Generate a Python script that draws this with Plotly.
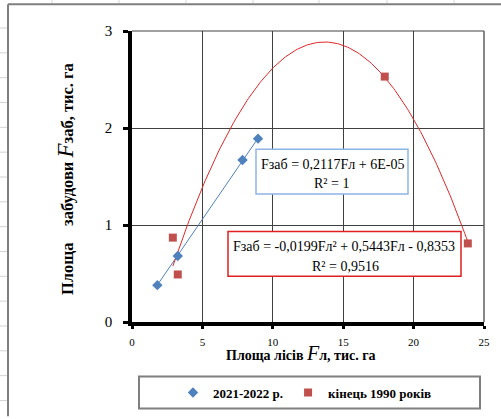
import numpy as np
import plotly.graph_objects as go

# ---- data ----
series_names = ["2021-2022 р.", "кінець 1990 років"]
x_2021 = [1.8, 3.25, 7.85, 8.95]
y_2021 = [0.38, 0.68, 1.67, 1.89]
x_1990 = [2.9, 3.25, 17.95, 23.85]
y_1990 = [0.87, 0.49, 2.53, 0.81]
lin_coef = [0.2117, 0.00006]            # Fзаб = 0,2117Fл + 6E-05
quad_coef = [-0.0199, 0.5443, -0.8353]  # Fзаб = -0,0199Fл² + 0,5443Fл - 0,8353
eq_lin = ["Fзаб = 0,2117Fл + 6E-05", "R² = 1"]
eq_quad = ["Fзаб = -0,0199Fл² + 0,5443Fл - 0,8353", "R² = 0,9516"]
x_ticks = [0, 5, 10, 15, 20, 25]
y_ticks = [0, 1, 2, 3]

W, H = 501, 419
L, R, T, B = 132, 17, 31, 95
PW, PH = W - L - R, H - T - B

def xp(px):
    return (px - L) / PW

def yp(py):
    return (H - B - py) / PH

SERIF = "Liberation Serif"
BLUE = "#4F81BD"
RED = "#C0504D"
REDLINE = "#E0282A"

fig = go.Figure()

# trend lines
xl = np.linspace(min(x_2021), max(x_2021), 50)
fig.add_trace(go.Scatter(x=xl, y=np.polyval(lin_coef, xl), mode="lines",
                         line=dict(color=BLUE, width=1), showlegend=False, hoverinfo="skip"))
xq = np.linspace(min(x_1990), max(x_1990), 200)
fig.add_trace(go.Scatter(x=xq, y=np.polyval(quad_coef, xq), mode="lines",
                         line=dict(color=REDLINE, width=1), showlegend=False, hoverinfo="skip"))

# markers
fig.add_trace(go.Scatter(x=x_2021, y=y_2021, mode="markers", name=series_names[0],
                         marker=dict(symbol="diamond", size=8, color=BLUE)))
fig.add_trace(go.Scatter(x=x_1990, y=y_1990, mode="markers", name=series_names[1],
                         marker=dict(symbol="square", size=8, color=RED)))

shapes = []
# spreadsheet faint gridlines outside chart frame
for py in range(28, H, 25):
    shapes.append(dict(type="line", xref="paper", yref="paper", x0=xp(0), x1=xp(7),
                       y0=yp(py), y1=yp(py), line=dict(color="#d4d4d4", width=1)))
for px in [52, 119, 186, 253, 319, 387, 454]:
    shapes.append(dict(type="line", xref="paper", yref="paper", x0=xp(px), x1=xp(px),
                       y0=yp(0), y1=yp(3), line=dict(color="#d4d4d4", width=1)))
# chart frame (left and top)
shapes.append(dict(type="line", xref="paper", yref="paper", x0=xp(8), x1=xp(8),
                   y0=yp(4), y1=yp(H), line=dict(color="#7f7f7f", width=2)))
shapes.append(dict(type="line", xref="paper", yref="paper", x0=xp(8), x1=xp(W),
                   y0=yp(4), y1=yp(4), line=dict(color="#7f7f7f", width=2)))
# plot area top / right border
shapes.append(dict(type="line", xref="paper", yref="paper", x0=0, x1=1, y0=1, y1=1,
                   line=dict(color="#404040", width=1)))
shapes.append(dict(type="line", xref="paper", yref="paper", x0=1, x1=1, y0=0, y1=1,
                   line=dict(color="#606060", width=1.5)))
# equation boxes
shapes.append(dict(type="rect", xref="paper", yref="paper", x0=xp(256), x1=xp(408),
                   y0=yp(195), y1=yp(150), fillcolor="white",
                   line=dict(color="#8EB4E3", width=1.5), layer="above"))
shapes.append(dict(type="rect", xref="paper", yref="paper", x0=xp(228), x1=xp(461),
                   y0=yp(278), y1=yp(233), fillcolor="white",
                   line=dict(color="#E02020", width=1.5), layer="above"))
# legend box
shapes.append(dict(type="rect", xref="paper", yref="paper", x0=xp(139), x1=xp(480),
                   y0=yp(411), y1=yp(379), line=dict(color="#7f7f7f", width=2)))

ann = []
def txt(s, px, py, size=14, **kw):
    ann.append(dict(text=s, xref="paper", yref="paper", x=xp(px), y=yp(py),
                    xanchor="center", yanchor="middle", showarrow=False,
                    font=dict(family=SERIF, size=size, color="black"), **kw))

txt(eq_lin[0], 332, 165)
txt(eq_lin[1], 331, 185)
txt(eq_quad[0], 344, 248)
txt(eq_quad[1], 345, 268)

# axis titles
txt("<b>Площа лісів </b><i><span style='font-size:20px'>F</span></i><b>л, тис. га</b>",
    301, 355, size=14)
txt("<b>Площа\u00a0\u00a0\u00a0 забудови </b><i><span style='font-size:23px'>F</span></i><b>заб, тис. га</b>",
    66, 180, size=16.5, textangle=-90)

fig.update_layout(
    width=W, height=H,
    margin=dict(l=L, r=R, t=T, b=B),
    paper_bgcolor="white", plot_bgcolor="white",
    shapes=shapes, annotations=ann,
    showlegend=True,
    legend=dict(orientation="h", x=xp(173), xanchor="left", y=yp(395), yanchor="middle",
                font=dict(family=SERIF, size=13, color="black", weight="bold"),
                bgcolor="rgba(0,0,0,0)", borderwidth=0),
    xaxis=dict(range=[0, 25], tickvals=x_ticks, showline=True, linecolor="black", linewidth=3.5,
               ticks="outside", ticklen=3, tickwidth=3, tickcolor="black",
               showgrid=True, gridcolor="#404040", gridwidth=1, zeroline=False,
               tickfont=dict(family=SERIF, size=11, color="black"), ticklabelstandoff=4),
    yaxis=dict(range=[0, 3], tickvals=y_ticks, showline=True, linecolor="black", linewidth=3.5,
               ticks="outside", ticklen=5, tickwidth=3, tickcolor="black",
               showgrid=True, gridcolor="#404040", gridwidth=1, zeroline=False,
               tickfont=dict(family=SERIF, size=15, color="black"), ticklabelstandoff=8),
)

fig.write_html("out.html")
